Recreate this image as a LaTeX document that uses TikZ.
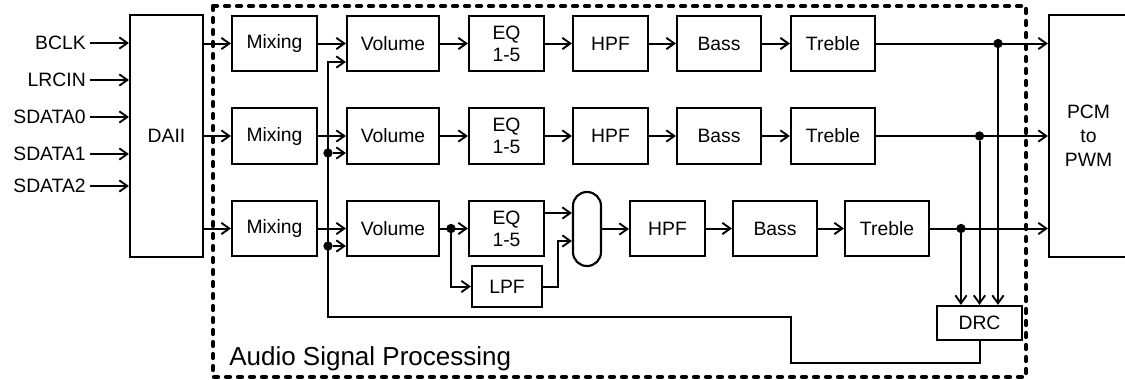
\documentclass[tikz,border=0pt]{standalone}
\usepackage{fontspec}
\setmainfont{Liberation Sans}
\usetikzlibrary{arrows.meta,positioning,calc}
\tikzset{
  >={Straight Barb[length=6pt,width=8.5pt,line width=1.4pt]},
  blk/.style={draw,line width=1.6pt,fill=white,inner sep=1pt,minimum height=41.5pt,font=\fontsize{14.5}{16.5}\selectfont,align=center},
  mix/.style={blk,minimum width=63.75pt},
  vol/.style={blk,minimum width=69pt},
  eqbox/.style={blk,minimum width=56.25pt},
  tone/.style={blk,minimum width=63pt},
  sig/.style={line width=1.5pt,draw=black},
  dot/.style={circle,fill=black,inner sep=0pt,minimum size=7pt},
  inlab/.style={anchor=east,inner sep=3pt,font=\fontsize{14.5}{16.5}\selectfont},
  area/.style={line width=3.2pt,dash pattern=on 3pt off 6pt,line cap=round}
}
\begin{document}
\begin{tikzpicture}[x=.75pt,y=-.75pt]
    \useasboundingbox (0,0) rectangle (1125,379);
    % processing area
    \draw[area] (213,6) rectangle (1026,377);
    \node[anchor=base west,inner sep=0pt,font=\fontsize{19.5}{22}\selectfont] (asp) at (229,365) {Audio Signal Processing};
    % serial inputs
    \node[blk,minimum width=54.75pt,minimum height=181.5pt] (dai) at (166.5,136) {DAII};
    \node[inlab] (bclk) at (90,43) {BCLK};
    \node[inlab] (lrcin) at (90,80) {LRCIN};
    \node[inlab] (sdA) at (90,117) {SDATA0};
    \node[inlab] (sdB) at (90,154) {SDATA1};
    \node[inlab] (sdC) at (90,186) {SDATA2};
    \draw[sig,->] (bclk) -- (bclk -| dai.west);
    \draw[sig,->] (lrcin) -- (lrcin -| dai.west);
    \draw[sig,->] (sdA) -- (sdA -| dai.west);
    \draw[sig,->] (sdB) -- (sdB -| dai.west);
    \draw[sig,->] (sdC) -- (sdC -| dai.west);
    % channel A
    \node[mix] (mixA) at (274.5,43.5) {Mixing};
    \node[vol] (volA) at (393,43.5) {Volume};
    \node[eqbox] (eqA) at (506.5,43.5) {EQ\\1-5};
    \node[eqbox] (hpfA) at (610.5,43.5) {HPF};
    \node[tone] (bassA) at (719,43.5) {Bass};
    \node[tone] (trebA) at (833,43.5) {Treble};
    % channel B
    \node[mix] (mixB) at (274.5,136) {Mixing};
    \node[vol] (volB) at (393,136) {Volume};
    \node[eqbox] (eqB) at (506.5,136) {EQ\\1-5};
    \node[eqbox] (hpfB) at (610.5,136) {HPF};
    \node[tone] (bassB) at (719,136) {Bass};
    \node[tone] (trebB) at (833,136) {Treble};
    % channel C
    \node[mix] (mixC) at (274.5,228.5) {Mixing};
    \node[vol] (volC) at (393,228.5) {Volume};
    \node[eqbox] (eqC) at (506.5,228.5) {EQ\\1-5};
    \node[blk,minimum width=52.5pt,minimum height=30.75pt] (lpf) at (507,286.5) {LPF};
    \node[draw,line width=1.6pt,rounded corners=10.4pt,minimum width=21pt,minimum height=55.5pt] (merge) at (587,229) {};
    \node[eqbox] (hpfC) at (667.5,228.5) {HPF};
    \node[tone] (bassC) at (775,228.5) {Bass};
    \node[tone] (trebC) at (887,228.5) {Treble};
    \node[blk,minimum width=63.75pt,minimum height=25.5pt] (drc) at (979.5,323) {DRC};
    \node[blk,minimum width=59.25pt,minimum height=181pt,font=\fontsize{14.5}{18}\selectfont] (pwm) at (1088.5,136) {PCM\\to\\PWM};
    % DAI to mixers
    \draw[sig,->] (mixA.west -| dai.east) -- (mixA.west);
    \draw[sig,->] (mixB.west -| dai.east) -- (mixB.west);
    \draw[sig,->] (mixC.west -| dai.east) -- (mixC.west);
    % chains
    \draw[sig,->] (mixA) -- (volA);
    \draw[sig,->] (volA) -- (eqA);
    \draw[sig,->] (eqA) -- (hpfA);
    \draw[sig,->] (hpfA) -- (bassA);
    \draw[sig,->] (bassA) -- (trebA);
    \draw[sig,->] (mixB) -- (volB);
    \draw[sig,->] (volB) -- (eqB);
    \draw[sig,->] (eqB) -- (hpfB);
    \draw[sig,->] (hpfB) -- (bassB);
    \draw[sig,->] (bassB) -- (trebB);
    \draw[sig,->] (mixC) -- (volC);
    \node[dot] (jV) at (451,228.5) {};
    \draw[sig,->] (volC.east) -- (eqC.west);
    \draw[sig,->] (jV) |- (lpf.west);
    \draw[sig,->] ($(eqC.east)+(0,-15.5)$) -- ($(merge.west)+(0,-16)$);
    \draw[sig,->] (lpf.east) -- ++(15,0) |- ($(merge.west)+(0,12)$);
    \draw[sig,->] (merge.east) -- (merge.east -| hpfC.west);
    \draw[sig,->] (hpfC) -- (bassC);
    \draw[sig,->] (bassC) -- (trebC);
    % outputs and DRC taps
    \node[dot] (jA) at (998,43.5) {};
    \node[dot] (jB) at (979.5,136) {};
    \node[dot] (jC) at (961,228.5) {};
    \draw[sig,->] (trebA) -- (trebA -| pwm.west);
    \draw[sig,->] (trebB) -- (trebB -| pwm.west);
    \draw[sig,->] (trebC) -- (trebC -| pwm.west);
    \draw[sig,->] (jA) -- (jA |- drc.north);
    \draw[sig,->] (jB) -- (jB |- drc.north);
    \draw[sig,->] (jC) -- (jC |- drc.north);
    % DRC gain back to volume
    \coordinate (dn) at (791,363);
    \coordinate (fb) at (328,317);
    \coordinate (inA) at ($(volA.west)+(0,18.5)$);
    \coordinate (inB) at ($(volB.west)+(0,17)$);
    \coordinate (inC) at ($(volC.west)+(0,17.5)$);
    \draw[sig,->] (drc.south) |- (dn) |- (fb) |- (inA);
    \node[dot] (jB2) at (fb |- inB) {};
    \node[dot] (jC2) at (fb |- inC) {};
    \draw[sig,->] (jB2) -- (inB);
    \draw[sig,->] (jC2) -- (inC);
\end{tikzpicture}
\end{document}
